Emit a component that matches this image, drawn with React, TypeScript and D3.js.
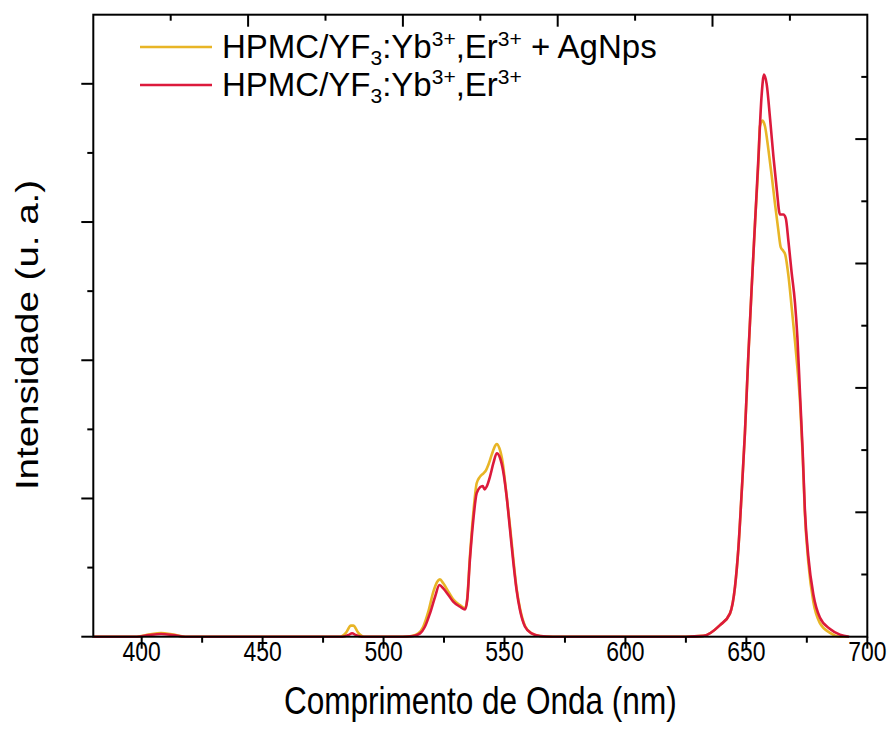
import React from "react";
import * as d3 from "d3";

const redWl = [380,398,403,408,413,418,483,485.5,487,488.5,491,508,512.3,515.1,517.1,519.2,521.3,523.1,524.7,526.8,528.8,531.6,533.7,534.6,535.7,537.1,538.5,539.9,541.0,541.8,542.6,544.0,545.4,546.8,548.2,549.5,550.9,552.3,553.7,555.0,556.4,558.5,561.2,564.7,570,625,632.2,639.1,643.2,645.3,646.7,648.1,649.4,650.8,652.2,653.6,655.0,656.3,657.3,658.4,659.8,661.2,662.5,663.9,665.3,666.3,667.4,668.7,670.1,671.1,672.2,673.3,674.2,675.6,677.7,680.4,684.6,688.7,692.5];
const redI = [0,0,0.012,0.02,0.012,0,0,0.012,0.025,0.012,0,0,0.005,0.024,0.072,0.169,0.289,0.374,0.35,0.302,0.253,0.217,0.198,0.266,0.555,0.844,1.038,1.081,1.09,1.066,1.085,1.158,1.255,1.327,1.291,1.194,1.013,0.772,0.531,0.338,0.193,0.072,0.024,0.005,0,0,0.006,0.084,0.167,0.361,0.639,1.055,1.472,2.027,2.527,2.999,3.471,3.915,4.067,3.998,3.748,3.471,3.248,3.054,3.054,3.027,2.86,2.638,2.416,2.166,1.749,1.333,0.916,0.583,0.306,0.139,0.056,0.015,0];

const yellowWl = [380,398,403,408,413,418,482,484.5,486.5,487.5,489.5,492,508,511.6,514.4,516.4,518.5,520.6,522.2,523.3,524.7,526.8,528.8,531.6,533.7,534.6,535.7,537.1,538.5,539.9,541.3,542.4,543.3,544.7,546.1,546.8,547.9,549.3,550.6,552.3,553.7,555.0,556.4,558.5,561.2,564.7,570,625,632.2,639.1,643.2,645.3,646.7,648.1,649.4,650.8,652.2,653.6,655.0,655.6,656.7,657.7,659.1,660.5,661.8,663.2,664.2,665.3,666.1,667.4,668.7,670.1,671.1,672.2,673.3,674.2,675.6,677.7,680.4,684.6,688.7,692];
const yellowI = [0,0,0.015,0.026,0.015,0,0,0.03,0.08,0.08,0.03,0,0,0.005,0.024,0.072,0.181,0.326,0.398,0.415,0.386,0.326,0.27,0.229,0.205,0.278,0.579,0.893,1.11,1.158,1.182,1.206,1.242,1.315,1.38,1.394,1.363,1.255,1.062,0.796,0.555,0.35,0.205,0.077,0.024,0.005,0,0,0.006,0.084,0.167,0.361,0.639,1.055,1.472,2.027,2.527,2.999,3.443,3.693,3.734,3.693,3.526,3.332,3.137,2.943,2.818,2.79,2.763,2.61,2.388,2.138,1.944,1.694,1.305,0.889,0.541,0.25,0.098,0.028,0,0];

const xTickValues = [400, 450, 500, 550, 600, 650, 700];
const xTickLabels = ["400", "450", "500", "550", "600", "650", "700"];
const xMinorTicks = [425, 475, 525, 575, 625, 675];
const leftTicks = [0, 0.5, 1, 1.5, 2, 2.5, 3, 3.5, 4];
const frameTicks = [0.5, 1, 1.5, 2, 2.5, 3, 3.5, 4, 4.5];

const YELLOW = "#E8B526";
const RED = "#DC1A3C";
const FONT = "'Liberation Sans', Arial, Helvetica, sans-serif";
const SQ = 0.82;
const LSQ = 1.0;

export default function App() {
  const L = 93.3, R = 867.3, T = 14.7, B = 636.7;
  const x = d3.scaleLinear().domain([380, 700]).range([L, R]);
  const y = d3.scaleLinear().domain([0, 4.5]).range([B, T]);
  const top = d3.scaleLinear().domain([0, 5]).range([L, R]);
  const right = d3.scaleLinear().domain([0, 5]).range([B, T]);

  const line = d3.line<[number, number]>()
    .x(d => x(d[0]))
    .y(d => y(d[1]))
    .curve(d3.curveMonotoneX);

  const redPts = redWl.map((w, i) => [w, redI[i]] as [number, number]);
  const yelPts = yellowWl.map((w, i) => [w, yellowI[i]] as [number, number]);

  const isMajor = (v: number) => Math.abs(v - Math.round(v)) < 1e-6;

  const legendLabel = (extra: string) => (
    <>
      HPMC/YF<tspan dy="7" fontSize="21">3</tspan>
      <tspan dy="-7">:Yb</tspan>
      <tspan dy="-12" fontSize="21">3+</tspan>
      <tspan dy="12">,Er</tspan>
      <tspan dy="-12" fontSize="21">3+</tspan>
      <tspan dy="12">{extra}</tspan>
    </>
  );

  return (
    <svg width={891} height={733} style={{ position: "absolute", left: 0, top: 0, background: "#fff" }} fontFamily={FONT}>
      <rect x={0} y={0} width={891} height={733} fill="#fff" />
      <path d={line(yelPts) || ""} fill="none" stroke={YELLOW} strokeWidth={2.6} strokeLinejoin="round" />
      <path d={line(redPts) || ""} fill="none" stroke={RED} strokeWidth={2.6} strokeLinejoin="round" />

      {/* frame */}
      <rect x={L} y={T} width={R - L} height={B - T} fill="none" stroke="#000" strokeWidth={2} />

      {/* bottom ticks */}
      {xTickValues.map(v => (
        <line key={"bx" + v} x1={x(v)} x2={x(v)} y1={B} y2={B + 12} stroke="#000" strokeWidth={2} />
      ))}
      {xMinorTicks.map(v => (
        <line key={"bm" + v} x1={x(v)} x2={x(v)} y1={B} y2={B + 6} stroke="#000" strokeWidth={2} />
      ))}
      {xTickValues.map((v, i) => (
        <text key={"bl" + v} transform={`translate(${x(v)}, 661) scale(${SQ}, 1)`} textAnchor="middle" fontSize={28} fill="#000">{xTickLabels[i]}</text>
      ))}

      {/* left ticks */}
      {leftTicks.map(v => (
        <line key={"l" + v} x1={L} x2={L - (isMajor(v) ? 12 : 6)} y1={y(v)} y2={y(v)} stroke="#000" strokeWidth={2} />
      ))}

      {/* top ticks */}
      {frameTicks.map(v => (
        <line key={"t" + v} x1={top(v)} x2={top(v)} y1={T} y2={T + (isMajor(v) ? 12 : 6)} stroke="#000" strokeWidth={2} />
      ))}

      {/* right ticks */}
      {frameTicks.map(v => (
        <line key={"r" + v} x1={R} x2={R - (isMajor(v) ? 12 : 6)} y1={right(v)} y2={right(v)} stroke="#000" strokeWidth={2} />
      ))}

      {/* axis titles */}
      <text transform={`translate(${(L + R) / 2}, 714) scale(${SQ}, 1)`} textAnchor="middle" fontSize={38.5} fill="#000">Comprimento de Onda (nm)</text>
      <text transform={`translate(38, 335) rotate(-90) scale(1, ${SQ})`} textAnchor="middle" fontSize={38.5} fill="#000">Intensidade (u. a.)</text>

      {/* legend */}
      <line x1={140} x2={212} y1={47} y2={47} stroke={YELLOW} strokeWidth={2.6} />
      <text transform={`translate(222, 58) scale(${LSQ}, 1)`} fontSize={33} fill="#000">{legendLabel(" + AgNps")}</text>
      <line x1={140} x2={212} y1={85} y2={85} stroke={RED} strokeWidth={2.6} />
      <text transform={`translate(222, 96) scale(${LSQ}, 1)`} fontSize={33} fill="#000">{legendLabel("")}</text>
    </svg>
  );
}
